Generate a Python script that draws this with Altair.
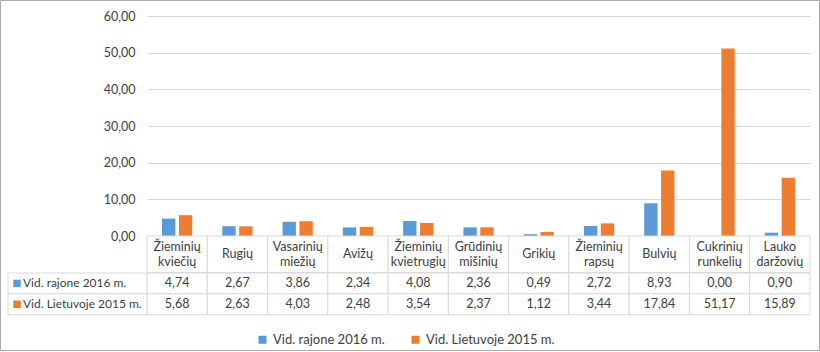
import altair as alt
import pandas as pd

categories = ["Žieminių kviečių", "Rugių", "Vasarinių miežių", "Avižų",
              "Žieminių kvietrugių", "Grūdinių mišinių", "Grikių",
              "Žieminių rapsų", "Bulvių", "Cukrinių runkelių", "Lauko daržovių"]
series = ["Vid. rajone 2016 m.", "Vid. Lietuvoje 2015 m."]
rajone_2016 = [4.74, 2.67, 3.86, 2.34, 4.08, 2.36, 0.49, 2.72, 8.93, 0.00, 0.90]
lietuvoje_2015 = [5.68, 2.63, 4.03, 2.48, 3.54, 2.37, 1.12, 3.44, 17.84, 51.17, 15.89]
y_ticks = [0, 10, 20, 30, 40, 50, 60]
colors = ["#5B9BD5", "#ED7D31"]

rows = []
for i, c in enumerate(categories):
    rows.append({"cat": c, "series": series[0], "value": rajone_2016[i]})
    rows.append({"cat": c, "series": series[1], "value": lietuvoje_2015[i]})
df = pd.DataFrame(rows)
df["label"] = df["value"].map(lambda v: f"{v:.2f}".replace(".", ","))
hdr = pd.DataFrame({"cat": categories, "text": [c.replace(" ", "\n") for c in categories]})
hdr["two"] = hdr["text"].str.contains("\n")
lab = pd.DataFrame({"series": series, "col": ["lab", "lab"]})

FONT = "Lato"
TXT = "#404040"
GRID = "#D9D9D9"
W = 663
LABW = 139
LH = 15.5

def xcat():
    return alt.X("cat:N", sort=categories,
                 scale=alt.Scale(domain=categories, paddingInner=0, paddingOuter=0),
                 axis=None)

def ycat():
    return alt.Y("series:N", sort=series,
                 scale=alt.Scale(domain=series, paddingInner=0, paddingOuter=0),
                 axis=None)

def labx():
    return alt.X("col:N", scale=alt.Scale(domain=["lab"], range=[-LABW, 0],
                                          paddingInner=0, paddingOuter=0),
                 axis=None)

# chart-area frame (decorative border like the original chart area)
frame = alt.Chart(pd.DataFrame({"f": [0]})).mark_rect(
    fill=None, stroke="#ABABAB", strokeWidth=1).encode(
    x=alt.value(-146.5), x2=alt.value(672.5), y=alt.value(-15.5), y2=alt.value(334.5))

bars = alt.Chart(df).mark_bar().encode(
    x=xcat(),
    xOffset=alt.XOffset("series:N", sort=series,
                        scale=alt.Scale(domain=series, paddingInner=0.21, paddingOuter=0.89)),
    y=alt.Y("value:Q", scale=alt.Scale(domain=[0, 60]),
            axis=alt.Axis(values=y_ticks,
                          labelExpr="replace(format(datum.value, '.2f'), '.', ',')",
                          title=None, grid=True, gridColor=GRID, domain=False,
                          ticks=False, labelPadding=12, labelFontSize=12.5,
                          labelColor=TXT, labelFont=FONT)),
    color=alt.Color("series:N", scale=alt.Scale(domain=series, range=colors), legend=None),
)
top = alt.layer(bars, frame).properties(width=W, height=220)

hbase = alt.Chart(hdr)
header = alt.layer(
    hbase.mark_rect(fill="white", stroke=GRID, strokeWidth=1).encode(x=xcat()),
    hbase.transform_filter("datum.two").mark_text(
        lineBreak="\n", font=FONT, fontSize=12.5, color=TXT, lineHeight=LH,
        dy=-LH / 2).encode(x=xcat(), text="text:N"),
    hbase.transform_filter("!datum.two").mark_text(
        font=FONT, fontSize=12.5, color=TXT).encode(x=xcat(), text="text:N"),
).properties(width=W, height=36.6)

cells = alt.Chart(df).mark_rect(fill="white", stroke=GRID).encode(x=xcat(), y=ycat())
vals = alt.Chart(df).mark_text(font=FONT, fontSize=12.5, color=TXT).encode(
    x=xcat(), y=ycat(), text="label:N")
labcells = alt.Chart(lab).mark_rect(fill="white", stroke=GRID).encode(x=labx(), y=ycat())
labsq = alt.Chart(lab).mark_square(size=56, opacity=1, xOffset=9 - LABW / 2).encode(
    x=labx(), y=ycat(),
    color=alt.Color("series:N", scale=alt.Scale(domain=series, range=colors),
                    legend=alt.Legend(orient="none", legendX=109, legendY=60,
                                      direction="horizontal", title=None,
                                      symbolType="square", symbolSize=64,
                                      symbolStrokeWidth=0, symbolOpacity=1,
                                      labelFont=FONT, labelFontSize=13,
                                      labelColor=TXT, columnPadding=24,
                                      labelOffset=4, padding=0)))
labtxt = alt.Chart(lab).mark_text(align="left", dx=15 - LABW / 2, font=FONT, fontSize=12,
                                  color=TXT).encode(x=labx(), y=ycat(), text="series:N")

data_panel = alt.layer(cells, vals, labcells, labsq, labtxt).resolve_scale(
    x="independent").properties(width=W, height=41.7)

chart = alt.vconcat(top, header, data_panel, spacing=0, bounds="flush").resolve_scale(
    color="independent").properties(
    padding={"left": 0, "top": 0, "right": 0, "bottom": 0},
    background="white",
).configure_view(stroke=None)

chart.save("out.html", embed_options={"renderer": "svg", "actions": False})
